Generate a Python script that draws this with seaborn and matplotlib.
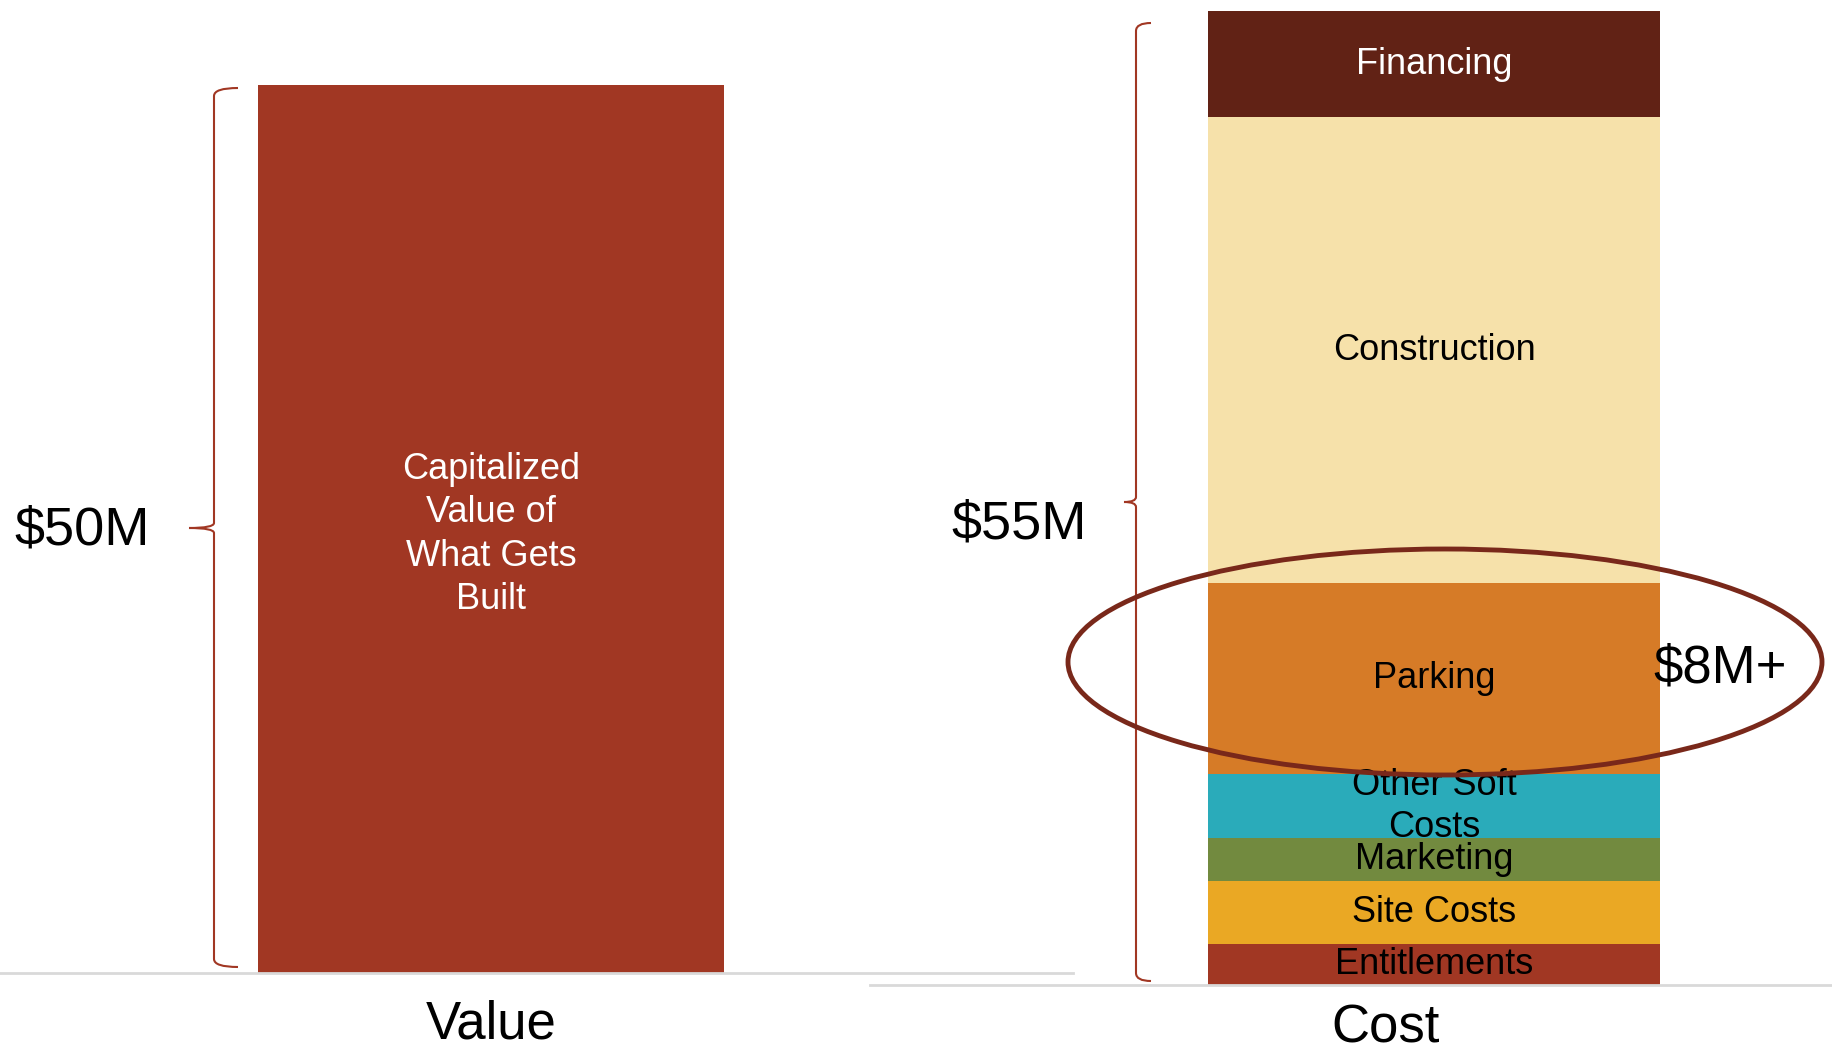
import matplotlib
matplotlib.use("Agg")
import matplotlib.pyplot as plt
import seaborn as sns
import pandas as pd
import numpy as np
from matplotlib.patches import Ellipse, PathPatch
from matplotlib.path import Path

# ---------------- data ----------------
value_category = ["Value"]
value_amount = [50.0]
value_label = "Capitalized\nValue of\nWhat Gets\nBuilt"

cost_category = "Cost"
cost_components = ["Entitlements", "Site Costs", "Marketing", "Other Soft\nCosts",
                   "Parking", "Construction", "Financing"]
cost_amounts = [2.3, 3.6, 2.4, 3.6, 10.8, 26.3, 6.0]
cost_colors = ["#A13723", "#EAA824", "#728A3F", "#2AABBA", "#D67B27", "#F6E1AA", "#612215"]
cost_text_colors = ["black", "black", "black", "black", "black", "black", "white"]
value_color = "#A13723"
total_labels = ["$50M", "$55M"]
highlight_label = "$8M+"

# ---------------- style ----------------
sns.set_theme(style="white")
plt.rcParams["font.family"] = ["Liberation Sans", "DejaVu Sans"]

W, H = 1832, 1052
fig = plt.figure(figsize=(W / 100, H / 100), dpi=100)


def fig_rect(x0, y0, x1, y1):
    return [x0 / W, 1 - y1 / H, (x1 - x0) / W, (y1 - y0) / H]


def style_axis(ax):
    for s in ["top", "left", "right"]:
        ax.spines[s].set_visible(False)
    ax.spines["bottom"].set_color("#D9D9D9")
    ax.spines["bottom"].set_linewidth(2)
    ax.set_yticks([])
    ax.set_xlabel("")
    ax.set_ylabel("")
    ax.tick_params(axis="x", length=0, labelsize=38, colors="black")
    ax.patch.set_alpha(0)


# ---------------- Value bar ----------------
ax1 = fig.add_axes(fig_rect(0, 0, 1073, 973))
df1 = pd.DataFrame({"cat": value_category, "amt": value_amount})
sns.barplot(data=df1, x="cat", y="amt", color=value_color, saturation=1,
            width=0.8, linewidth=0, ax=ax1)
ax1.set_ylim(0, 973 / 17.76)
ax1.set_xlim(-0.843, 0.999)
style_axis(ax1)
ax1.tick_params(axis="x", pad=19)
ax1.annotate(value_label, xy=(0, value_amount[0] / 2), xytext=(0, -4),
             textcoords="offset points", ha="center", va="center",
             color="white", fontsize=26, linespacing=1.31)

# ---------------- Cost stacked bar ----------------
ax2 = fig.add_axes(fig_rect(870, 0, 1832, 985))
cum = np.cumsum(cost_amounts)
for i in reversed(range(len(cost_amounts))):
    dfi = pd.DataFrame({"cat": [cost_category], "amt": [cum[i]]})
    sns.barplot(data=dfi, x="cat", y="amt", color=cost_colors[i], saturation=1,
                width=0.8, linewidth=0, ax=ax2)
for i, name in enumerate(cost_components):
    ax2.text(0, cum[i] - cost_amounts[i] / 2, name, ha="center", va="center",
             color=cost_text_colors[i], fontsize=26, linespacing=1.26)
ax2.set_ylim(0, 985 / 17.71)
ax2.set_xlim(-0.998, 0.704)
style_axis(ax2)
ax2.set_xticks([-0.085])
ax2.set_xticklabels([cost_category])
ax2.tick_params(axis="x", pad=13)

# ---------------- annotation overlay ----------------
ax0 = fig.add_axes([0, 0, 1, 1])
ax0.set_xlim(0, W)
ax0.set_ylim(H, 0)
ax0.axis("off")
ax0.patch.set_alpha(0)


def brace(ax, x_line, y_top, y_bot, x_tip, y_tip, x_hook, r=8, r2=5, color="#A13723"):
    verts = [
        (x_hook, y_top), (x_line, y_top), (x_line, y_top + r),
        (x_line, y_tip - r2),
        (x_line, y_tip), (x_tip, y_tip),
        (x_line, y_tip), (x_line, y_tip + r2),
        (x_line, y_bot - r),
        (x_line, y_bot), (x_hook, y_bot),
    ]
    codes = [Path.MOVETO, Path.CURVE3, Path.CURVE3,
             Path.LINETO,
             Path.CURVE3, Path.CURVE3,
             Path.CURVE3, Path.CURVE3,
             Path.LINETO,
             Path.CURVE3, Path.CURVE3]
    ax.add_patch(PathPatch(Path(verts, codes), fc="none", ec=color, lw=1.5))


brace(ax0, 214, 88, 967, 189, 528, 238)
brace(ax0, 1136, 23, 981, 1124, 502, 1151)

ax0.text(82, 530, total_labels[0], ha="center", va="center", fontsize=39, color="black")
ax0.text(1019, 525, total_labels[1], ha="center", va="center", fontsize=39, color="black")

ax0.add_patch(Ellipse((1445, 662), 754, 226, fc="none", ec="#79281A", lw=3.5, zorder=5))
ax0.text(1720, 669, highlight_label, ha="center", va="center", fontsize=38,
         color="black", zorder=6)

fig.savefig("out.png", dpi=100)
